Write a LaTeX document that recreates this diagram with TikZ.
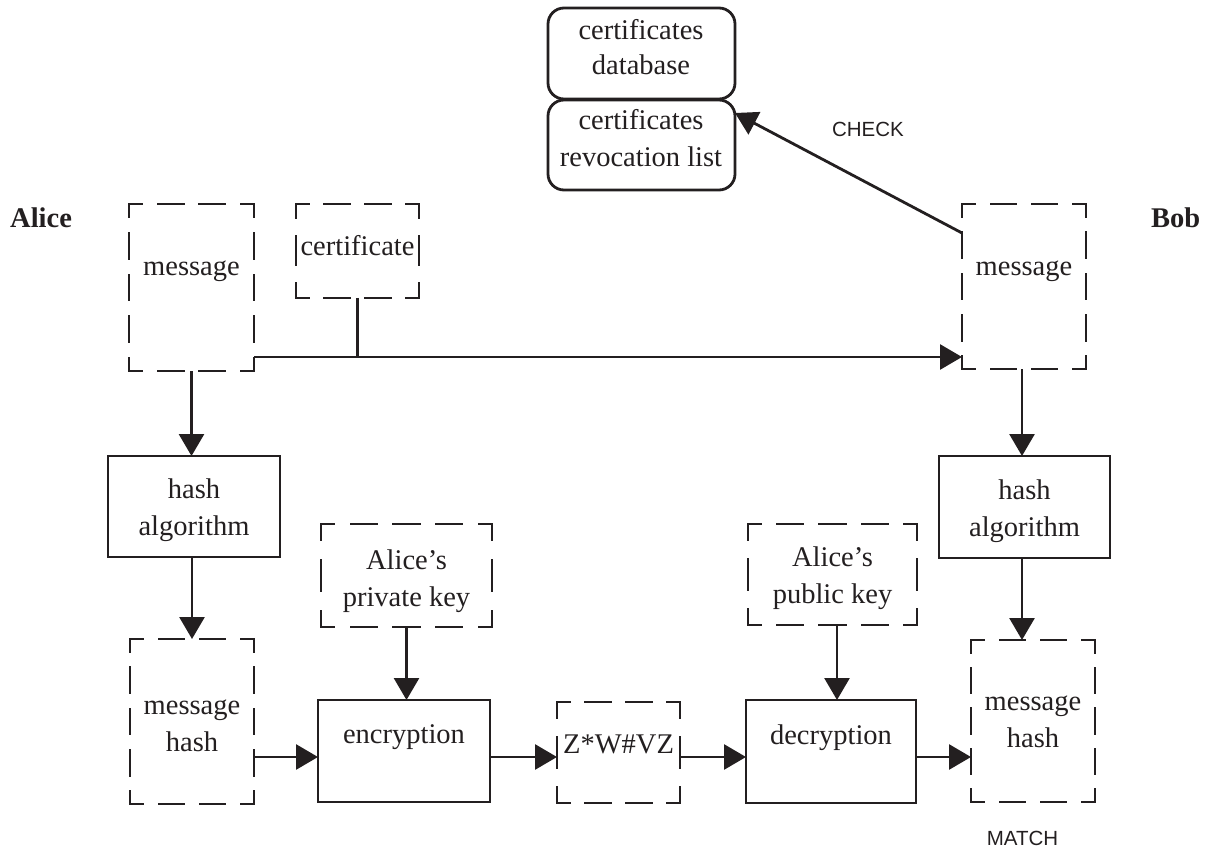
\documentclass[tikz,border=0pt]{standalone}
\usepackage{fontspec}
\setmainfont{Liberation Serif}
\newfontfamily\tagsans{Liberation Sans}
\usetikzlibrary{arrows.meta,calc}
\definecolor{ink}{HTML}{231F20}

% rectangle node given by its corners (x1,y1) and (x2,y2)
\newcommand\boxat[6]{%
  \node[#2, minimum width={#5-#3}, minimum height={#6-#4}] (#1) at ({(#3+#5)/2},{(#4+#6)/2}) {};}

% dashed frame: each side has a whole number of dash periods,
% with half dashes meeting at the corners
\newcommand\dashedframe[7]{%
  \boxat{#1}{dashframe}{#2}{#3}{#4}{#5}%
  \pgfmathsetmacro\dfha{0.6*(#4-#2)/(#6)}%
  \pgfmathsetmacro\dfhb{0.4*(#4-#2)/(#6)}%
  \pgfmathsetmacro\dfhc{0.3*(#4-#2)/(#6)}%
  \pgfmathsetmacro\dfva{0.6*(#5-#3)/(#7)}%
  \pgfmathsetmacro\dfvb{0.4*(#5-#3)/(#7)}%
  \pgfmathsetmacro\dfvc{0.3*(#5-#3)/(#7)}%
  \draw[dashside, dash pattern=on \dfha pt off \dfhb pt, dash phase=\dfhc pt]
    (#1.north west) -- (#1.north east) (#1.south west) -- (#1.south east);
  \draw[dashside, dash pattern=on \dfva pt off \dfvb pt, dash phase=\dfvc pt]
    (#1.north west) -- (#1.south west) (#1.north east) -- (#1.south east);}

\begin{document}
\begin{tikzpicture}[x=1pt,y=-1pt,
  solidbox/.style={draw=ink, line width=2.8pt, inner sep=0pt, outer sep=0pt},
  roundbox/.style={solidbox, rounded corners=16pt},
  dashframe/.style={inner sep=0pt, outer sep=0pt},
  dashside/.style={draw=ink, line width=2.8pt, line cap=rect},
  wire/.style={draw=ink, line width=2.8pt},
  link/.style={wire, -{Triangle[length=22pt,width=25pt]}},
  txt/.style={text=ink, font=\fontsize{28.5}{37}\selectfont, inner sep=0pt, align=center, anchor=base},
  who/.style={text=ink, font=\fontsize{28.5}{34}\selectfont\bfseries, inner sep=0pt, anchor=base west},
  tag/.style={text=ink, font=\tagsans\fontsize{20.5}{24}\selectfont, inner sep=0pt, anchor=base}]
\useasboundingbox (0,0) rectangle (1207,850);

% certificate authority side (multi-line texts sit on their last baseline)
\boxat{db}{roundbox}{548}{8}{735}{99}
\boxat{crl}{roundbox}{548}{100}{735}{190}
\node[txt, font=\fontsize{28.5}{35}\selectfont] (t-db) at (641,75) {certificates\\database};
\node[txt] (t-crl) at (641,167) {certificates\\revocation list};

% sender and receiver names
\node[who] (alice) at (10,228) {Alice};
\node[who] (bob) at (1151,228) {Bob};

% dashed data boxes
\dashedframe{amsg}{129}{204}{254}{371}{3}{4}
\dashedframe{cert}{296}{204}{419}{298}{3}{2}
\dashedframe{bmsg}{962}{204}{1086}{369}{3}{4}
\dashedframe{privk}{321}{524}{492}{627}{4}{2}
\dashedframe{pubk}{748}{524}{917}{625}{4}{2}
\dashedframe{mhL}{130}{639}{254}{804}{3}{4}
\dashedframe{zbox}{557}{702}{680}{803}{3}{2}
\dashedframe{mhR}{971}{640}{1095}{802}{3}{4}

% processing boxes
\boxat{hashL}{solidbox}{108}{456}{280}{557}
\boxat{hashR}{solidbox}{939}{456}{1110}{558}
\boxat{enc}{solidbox}{318}{700}{490}{802}
\boxat{dec}{solidbox}{746}{700}{916}{803}

% box texts
\node[txt] (t-amsg) at (191.5,276) {message};
\node[txt] (t-cert) at (357.5,256) {certificate};
\node[txt] (t-bmsg) at (1024,276) {message};
\node[txt] (t-hashL) at (194,535) {hash\\algorithm};
\node[txt] (t-hashR) at (1024.5,536) {hash\\algorithm};
\node[txt] (t-privk) at (406.5,606) {Alice’s\\private key};
\node[txt] (t-pubk) at (832.5,603) {Alice’s\\public key};
\node[txt] (t-mhL) at (192,751) {message\\hash};
\node[txt] (t-mhR) at (1033,747) {message\\hash};
\node[txt] (t-enc) at (404,743) {encryption};
\node[txt] (t-dec) at (831,744) {decryption};
\node[txt] (t-z) at (618.5,753) {Z*W\#VZ};

% side labels
\node[tag] (check) at (868,137) {CHECK};
\node[tag] (match) at (1022.5,845) {MATCH};

% guide coordinates for the straight runs
\coordinate (bus) at (0,357);
\coordinate (chain) at (0,757);
\coordinate (pubcol) at (837,0);
\coordinate (bobcol) at (1022,0);

% message and certificate travel to Bob
\draw[link] (amsg.east |- bus) -- (bmsg.west |- bus);
\draw[wire] (cert.south) -- (cert.south |- bus);

% revocation check
\draw[link] ($(bmsg.north west)+(0,29)$) -- ($(crl.north east)+(0,13)$);

% Alice's signing path
\draw[link] (amsg.south) -- (amsg.south |- hashL.north);
\draw[link] (mhL.north |- hashL.south) -- (mhL.north);
\draw[link] (privk.south) -- (privk.south |- enc.north);
\draw[link] (mhL.east |- chain) -- (enc.west |- chain);
\draw[link] (enc.east |- chain) -- (zbox.west |- chain);

% Bob's verification path
\draw[link] (zbox.east |- chain) -- (dec.west |- chain);
\draw[link] (pubcol |- pubk.south) -- (pubcol |- dec.north);
\draw[link] (dec.east |- chain) -- (mhR.west |- chain);
\draw[link] (bobcol |- bmsg.south) -- (bobcol |- hashR.north);
\draw[link] (bobcol |- hashR.south) -- (bobcol |- mhR.north);
\end{tikzpicture}
\end{document}
